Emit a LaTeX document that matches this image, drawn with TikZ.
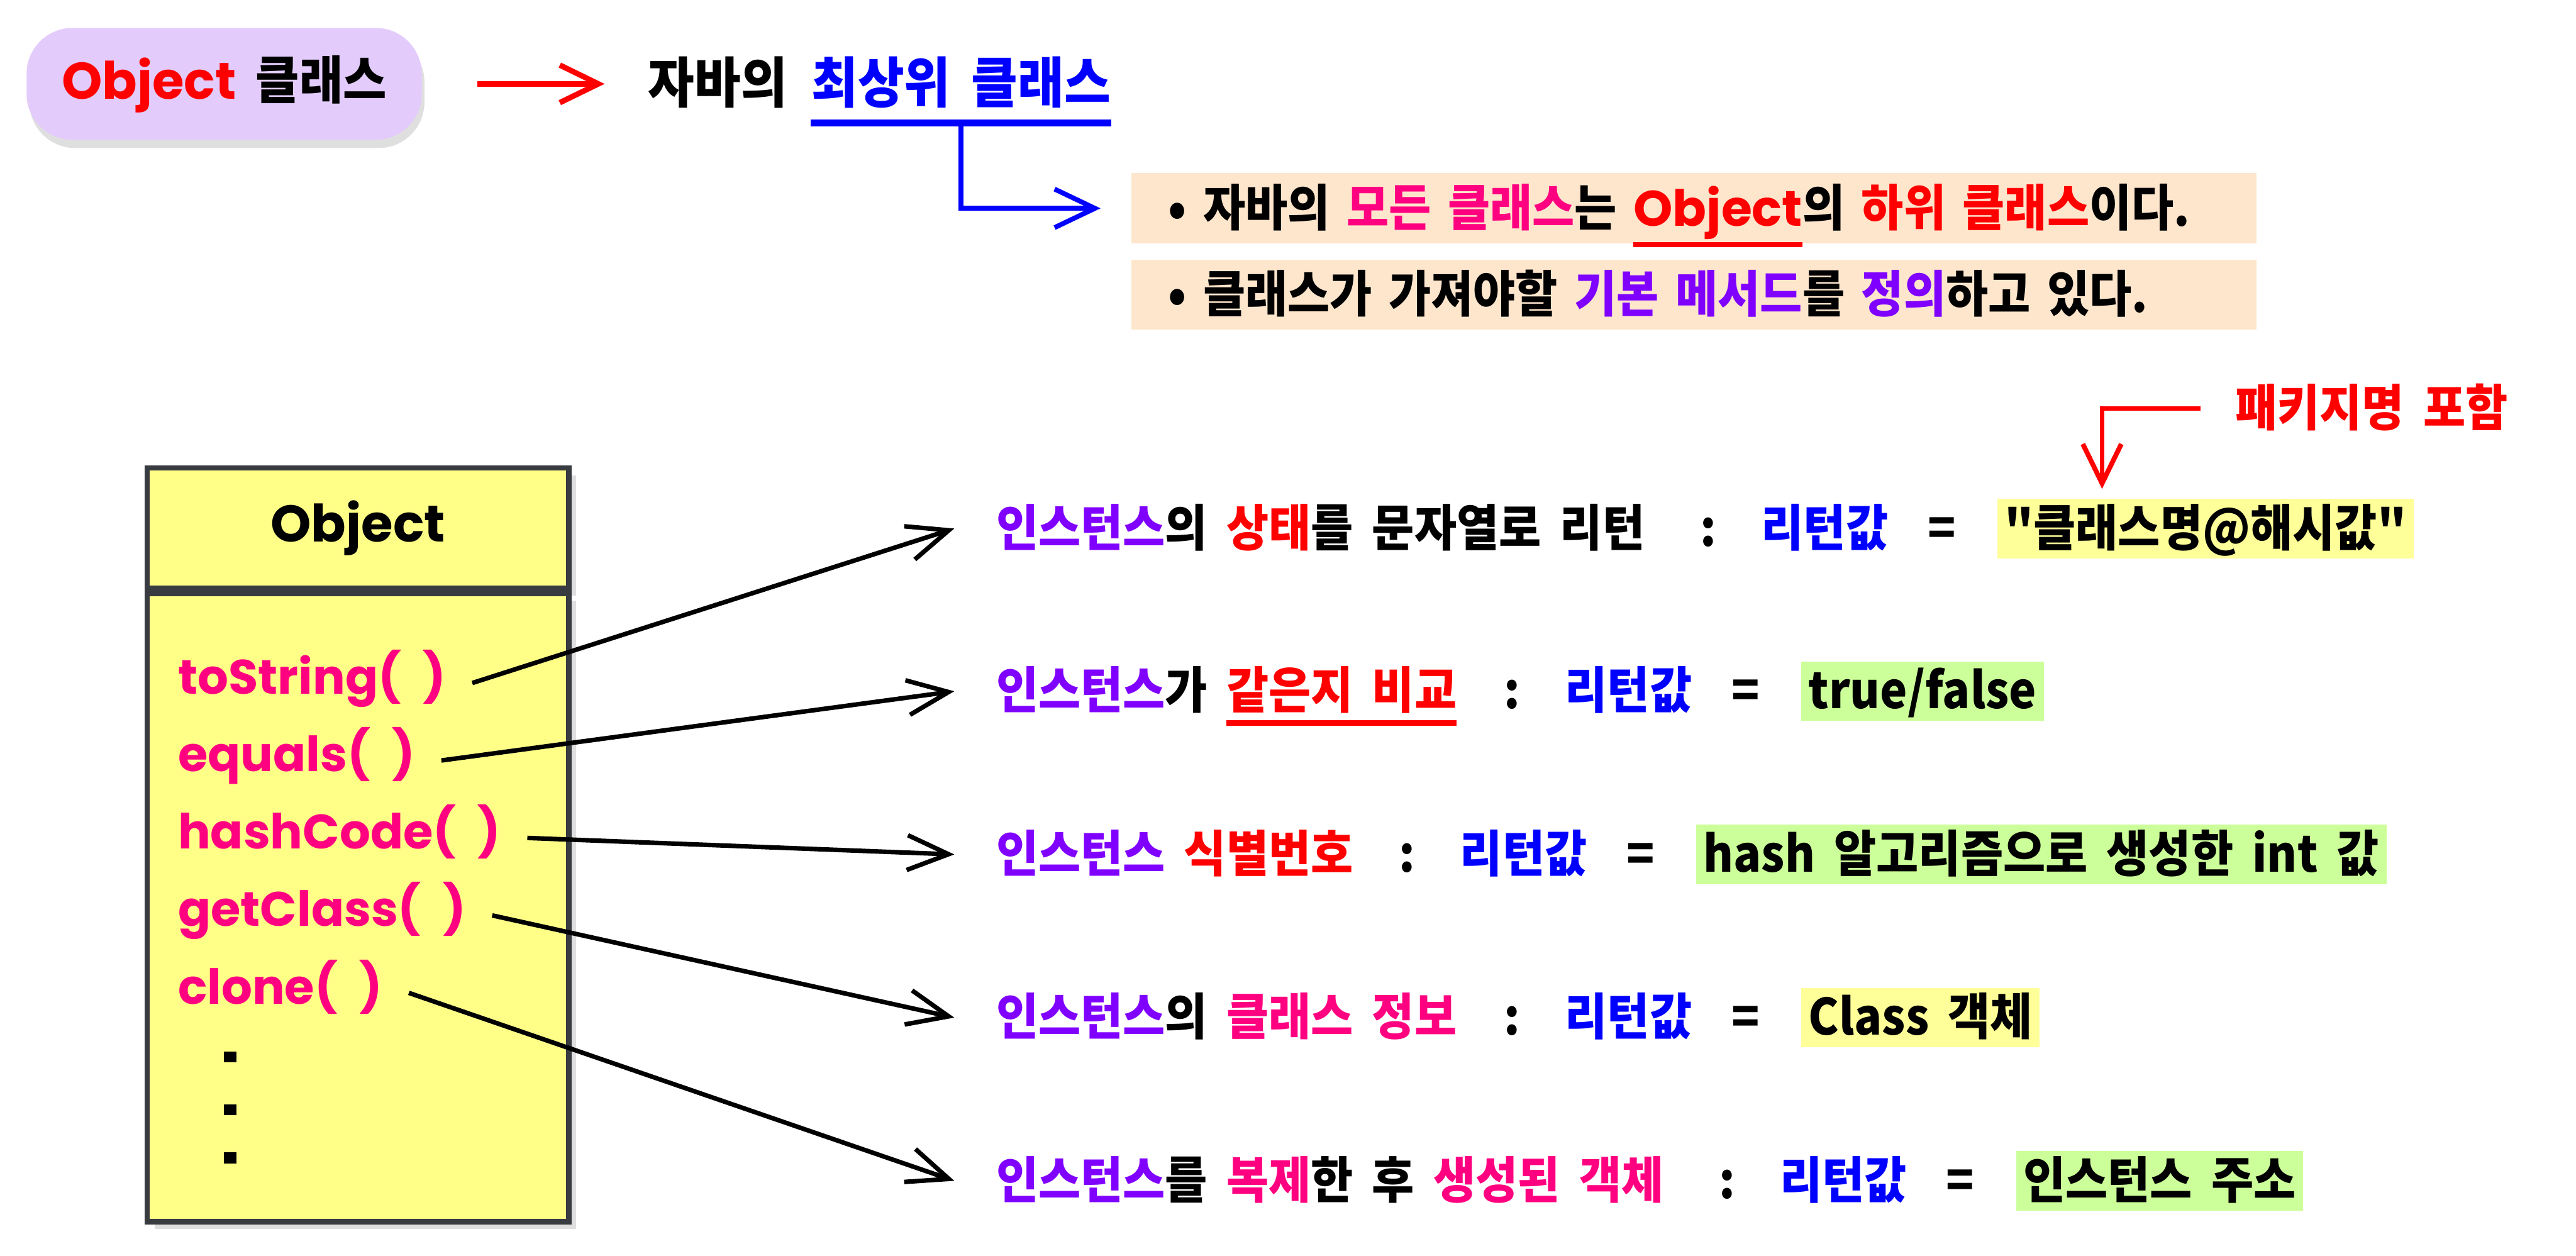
\documentclass[tikz,border=0pt]{standalone}
\usepackage{fontspec}
\setmainfont{Noto Sans CJK KR}[FakeStretch=0.92, WordSpace=1.8, Ligatures=TeXOff]
\newfontfamily\comicfont{Poppins}
\usetikzlibrary{positioning,arrows.meta,shadows}

\definecolor{pilllav}{HTML}{E3CCFC}
\definecolor{peach}{HTML}{FEE6CD}
\definecolor{umlyellow}{HTML}{FFFF88}
\definecolor{umlline}{HTML}{383B40}
\definecolor{valyellow}{HTML}{FFFF99}
\definecolor{valgreen}{HTML}{CCFF99}
\definecolor{cpink}{HTML}{FF0080}
\definecolor{cpurple}{HTML}{8000FF}
\definecolor{cblue}{HTML}{0000FF}
\definecolor{cred}{HTML}{FF0000}

\newcommand{\inpur}[1]{\textcolor{cpurple}{#1}}
\newcommand{\inred}[1]{\textcolor{cred}{#1}}
\newcommand{\inpink}[1]{\textcolor{cpink}{#1}}
\newcommand{\inblue}[1]{\textcolor{cblue}{#1}}
\newcommand{\emptyparen}{(\hspace{0.45em})}
\newsavebox{\ulbox}
\newcommand{\redline}[2]{\sbox{\ulbox}{#2}\rlap{\textcolor{cred}{\rule[#1]{\wd\ulbox}{0.06cm}}}\usebox{\ulbox}}

\begin{document}
\begin{tikzpicture}[
    ktext/.style={inner sep=0pt, text height=12.4pt, text depth=1.5pt, font=\fontsize{15.5}{18}\selectfont\bfseries},
    bigtext/.style={inner sep=0pt, text height=13.6pt, text depth=1.7pt, font=\fontsize{17}{20}\selectfont\bfseries},
    pill/.style={fill=pilllav, rounded corners=0.5cm, minimum width=4.31cm, minimum height=1.22cm, inner sep=0pt,
        font=\fontsize{16}{19}\selectfont\bfseries,
        drop shadow={shadow xshift=0.03cm, shadow yshift=-0.09cm, opacity=0.25}},
    notebox/.style={ktext, fill=peach, text width=11.47cm, align=left, inner xsep=0.4cm, minimum height=0.765cm},
    umlhead/.style={draw=umlline, line width=1.7pt, fill=umlyellow, minimum width=4.6cm, minimum height=1.31cm,
        font={\comicfont\bfseries\fontsize{16}{19}\selectfont},
        drop shadow={shadow xshift=0.08cm, shadow yshift=-0.08cm, opacity=0.25}},
    umlbody/.style={umlhead, minimum height=6.85cm},
    method/.style={inner sep=0pt, text=cpink, font={\comicfont\bfseries\fontsize{15}{18}\selectfont}},
    valbox/.style={ktext, anchor=west, minimum height=0.65cm, inner xsep=0.08cm},
    link/.style={line width=1.4pt, -{Straight Barb[length=0.45cm,width=0.38cm]}},
    redarrow/.style={cred, line width=1.7pt, -{Straight Barb[length=0.42cm,width=0.41cm]}},
    bluearrow/.style={cblue, line width=1.5pt, -{Straight Barb[length=0.44cm,width=0.42cm]}},
    pkgarrow/.style={cred, line width=1.5pt, -{Straight Barb[length=0.43cm,width=0.42cm]}}
]
    \useasboundingbox (0,0) rectangle (28.1,13.7);

    % top: Object class
    \node[pill] (pill) at (2.445,12.785) {\textcolor{cred}{\comicfont Object} 클래스};
    \node[bigtext, anchor=west] (tjava) at (7.065,12.785) {자바의};
    \node[bigtext, text=cblue, right=0.25cm of tjava] (tsup) {최상위 클래스};
    \draw[redarrow] ([xshift=0.6cm]pill.east) -- ([xshift=-0.47cm]tjava.west);
    \draw[cblue, line width=2.1pt] ([yshift=-0.15cm]tsup.south west) -- ([yshift=-0.15cm]tsup.south east);

    \node[notebox, anchor=west] (box1) at (12.335,11.4275)
        {• 자바의 \inpink{모든 클래스}는 \redline{-0.235cm}{\inred{\comicfont Object}}의 \inred{하위 클래스}이다.};
    \node[notebox, anchor=west] (box2) at (12.335,10.4875)
        {• 클래스가 가져야할 \inpur{기본 메서드}를 \inpur{정의}하고 있다.};
    \draw[bluearrow] ([yshift=-0.15cm]tsup.south) |- ([xshift=-0.33cm]box1.west);

    % UML box
    \node[umlhead] (objhead) at (3.905,7.94) {Object};
    \node[umlbody, below=0pt of objhead] (objbody) {};
    \foreach \m [count=\i] in {toString\emptyparen, equals\emptyparen, hashCode\emptyparen, getClass\emptyparen, clone\emptyparen}
        \node[method, anchor=base west] (m\i) at (1.935,{6.13-0.845*(\i-1)}) {\m};
    \foreach \y in {2.17,1.595,1.07}
        \fill ({2.51-0.07},{\y-0.06}) rectangle ({2.51+0.07},{\y+0.06});

    % rows
    \node[ktext, anchor=west] (d1) at (10.86,7.935) {\inpur{인스턴스}의 \inred{상태}를 문자열로 리턴};
    \node[ktext] (c1) at (18.635,7.935) {:};
    \node[ktext, text=cblue] (r1) at (19.905,7.935) {리턴값};
    \node[ktext] (e1) at (21.18,7.935) {=};
    \node[valbox, fill=valyellow, minimum width=4.44cm] (v1) at (21.78,7.935) {"클래스명@해시값"};

    \node[ktext, anchor=west] (d2) at (10.86,6.16) {\inpur{인스턴스}가 \redline{-0.185cm}{\inred{같은지 비교}}};
    \node[ktext] (c2) at (16.495,6.16) {:};
    \node[ktext, text=cblue] (r2) at (17.765,6.16) {리턴값};
    \node[ktext] (e2) at (19.04,6.16) {=};
    \node[valbox, fill=valgreen, minimum width=2.355cm] (v2) at (19.64,6.16) {true/false};

    \node[ktext, anchor=west] (d3) at (10.86,4.38) {\inpur{인스턴스} \inred{식별번호}};
    \node[ktext] (c3) at (15.35,4.38) {:};
    \node[ktext, text=cblue] (r3) at (16.62,4.38) {리턴값};
    \node[ktext] (e3) at (17.895,4.38) {=};
    \node[valbox, fill=valgreen, minimum width=7.295cm] (v3) at (18.495,4.38) {hash 알고리즘으로 생성한 int 값};

    \node[ktext, anchor=west] (d4) at (10.86,2.6) {\inpur{인스턴스}의 \inpink{클래스 정보}};
    \node[ktext] (c4) at (16.495,2.6) {:};
    \node[ktext, text=cblue] (r4) at (17.765,2.6) {리턴값};
    \node[ktext] (e4) at (19.04,2.6) {=};
    \node[valbox, fill=valyellow, minimum width=2.345cm] (v4) at (19.64,2.6) {Class 객체};

    \node[ktext, anchor=west] (d5) at (10.86,0.82) {\inpur{인스턴스}를 \inpink{복제}한 후 \inpink{생성된 객체}};
    \node[ktext] (c5) at (18.84,0.82) {:};
    \node[ktext, text=cblue] (r5) at (20.11,0.82) {리턴값};
    \node[ktext] (e5) at (21.385,0.82) {=};
    \node[valbox, fill=valgreen, minimum width=3.06cm] (v5) at (21.985,0.82) {인스턴스 주소};

    \foreach \i in {1,...,5}
        \draw[link] ([shift={(0.28cm,0.12cm)}]m\i.base east) -- ([xshift=-0.45cm]d\i.west);

    % package note
    \node[ktext, text=cred, anchor=west] (pkg) at (24.375,9.245) {패키지명 포함};
    \coordinate (pkgtip) at ([xshift=1.15cm,yshift=0.1cm]v1.north west);
    \draw[pkgarrow] ([xshift=-0.37cm]pkg.west) -| (pkgtip);
\end{tikzpicture}
\end{document}
